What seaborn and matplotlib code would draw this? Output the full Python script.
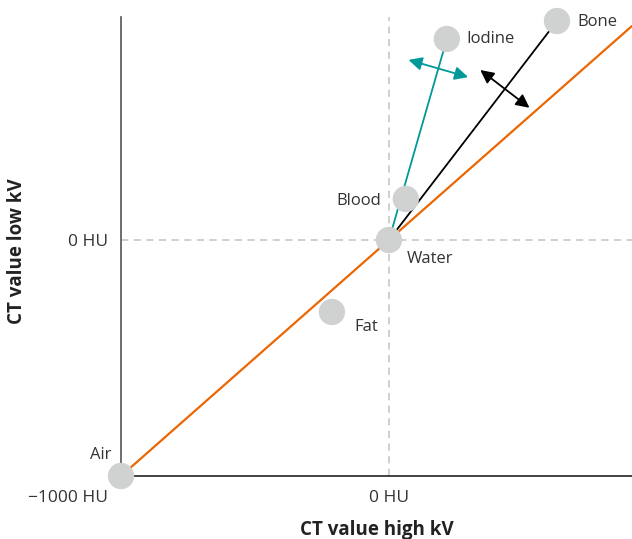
import numpy as np
import pandas as pd
import matplotlib
matplotlib.use("Agg")
import matplotlib.pyplot as plt
from matplotlib.patches import FancyArrowPatch
from matplotlib.transforms import ScaledTranslation
import seaborn as sns

# Materials and their CT numbers (HU) at the two tube voltages
materials = ["Air", "Fat", "Water", "Blood", "Iodine", "Bone"]
hu_high_kv = [-1000, -213, 0, 63, 216, 627]
hu_low_kv = [-1000, -305, 0, 174, 852, 928]

# Axis ticks
x_ticks = [-1000, 0]
x_tick_labels = ["\u22121000 HU", "0 HU"]
y_ticks = [0]
y_tick_labels = ["0 HU"]

df = pd.DataFrame({"material": materials, "high": hu_high_kv, "low": hu_low_kv})

sns.set_theme(style="white")
plt.rcParams["font.family"] = ["Open Sans", "DejaVu Sans"]

TEXT = "#333333"
ORANGE = "#ec6602"
TEAL = "#009999"
GREY_DOT = "#d0d2d2"

fig = plt.figure(figsize=(6.32, 5.39), dpi=100)
ax = fig.add_axes([121 / 632, 63 / 539, 1 - 121 / 632, (476 - 17) / 539])
ax.set_xlim(-1000, 907)
ax.set_ylim(-1000, 945)

# reference cross-hair through water
ax.axvline(0, color="#cccccc", lw=1.3, ls=(0, (4, 3)), zorder=1)
ax.axhline(0, color="#cccccc", lw=1.3, ls=(0, (4, 3)), zorder=1)

# identity line through air and water
air = df.set_index("material").loc["Air"]
water = df.set_index("material").loc["Water"]
ax.axline((air.high, air.low), (water.high, water.low), color=ORANGE, lw=1.6, zorder=2)

# material lines from water
pair_colors = {"Iodine": TEAL, "Bone": "black"}
for mat, col in pair_colors.items():
    sub = df[df.material.isin(["Water", mat])]
    sns.lineplot(data=sub, x="high", y="low", color=col, lw=1.3, ax=ax,
                 sort=False, zorder=3, legend=False)

sns.scatterplot(data=df, x="high", y="low", s=360, color=GREY_DOT,
                edgecolor="none", ax=ax, zorder=5, clip_on=False, legend=False)

# double-headed arrows perpendicular to the material lines
arrow_frac = {"Iodine": 0.853, "Bone": 0.69}
half_len_px = 31
for mat, col in pair_colors.items():
    m = df.set_index("material").loc[mat]
    t = arrow_frac[mat]
    cx, cy = water.high + t * (m.high - water.high), water.low + t * (m.low - water.low)
    p0 = ax.transData.transform((water.high, water.low))
    p1 = ax.transData.transform((m.high, m.low))
    pc = ax.transData.transform((cx, cy))
    d = p1 - p0
    d = d / np.hypot(*d)
    perp = np.array([d[1], -d[0]])
    a = ax.transData.inverted().transform(pc - perp * half_len_px)
    b = ax.transData.inverted().transform(pc + perp * half_len_px)
    ax.add_patch(FancyArrowPatch(a, b, arrowstyle="<|-|>", mutation_scale=20,
                                 shrinkA=0, shrinkB=0, color=col, lw=1.3, zorder=4))

# labels next to points (offsets in points)
label_offsets = {
    "Air": (-7, 15, "right"),
    "Fat": (16, -10.5, "left"),
    "Water": (13, -13.5, "left"),
    "Blood": (-18, -1.5, "right"),
    "Iodine": (14, 0, "left"),
    "Bone": (15, -0.5, "left"),
}
for _, r in df.iterrows():
    dx, dy, ha = label_offsets[r.material]
    ax.annotate(r.material, (r.high, r.low), xytext=(dx, dy), textcoords="offset points",
                ha=ha, va="center", fontsize=12, color=TEXT, zorder=6)

ax.set_xticks(x_ticks, x_tick_labels)
ax.set_yticks(y_ticks, y_tick_labels)
ax.tick_params(axis="both", length=0, labelsize=12.5, colors=TEXT)
ax.tick_params(axis="x", pad=10)
ax.tick_params(axis="y", pad=9)
first = ax.get_xticklabels()[0]
first.set_horizontalalignment("right")
first.set_transform(first.get_transform() + ScaledTranslation(-13 / 100, 0, fig.dpi_scale_trans))

ax.set_xlabel("CT value high kV", fontsize=13.5, fontweight="bold", color="#222222")
ax.set_ylabel("CT value low kV", fontsize=13.5, fontweight="bold", color="#222222")
ax.xaxis.set_label_coords(0.5, -(539.5 - 476) / 459)
ax.xaxis.label.set_verticalalignment("bottom")
ax.yaxis.set_label_coords(-(121 - 27) / 511, 0.49)

for s in ["top", "right"]:
    ax.spines[s].set_visible(False)
ax.spines["left"].set_color("#555555")
ax.spines["left"].set_linewidth(1.2)
ax.spines["bottom"].set_color("#222222")
ax.spines["bottom"].set_linewidth(1.2)
ax.grid(False)

fig.savefig("out.png", dpi=100)
